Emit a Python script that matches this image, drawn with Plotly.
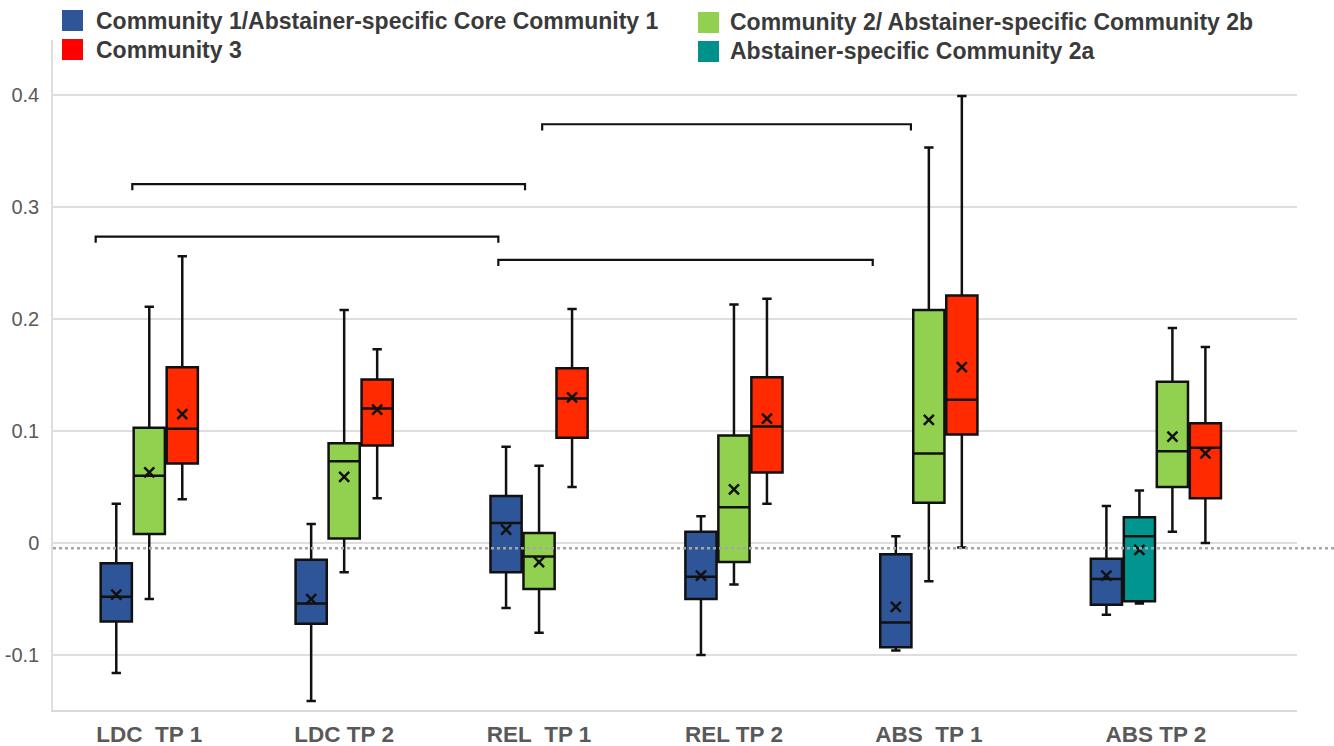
import plotly.graph_objects as go

# ---------------- data ----------------
categories = ["LDC\u00a0 TP 1", "LDC TP 2", "REL\u00a0 TP 1", "REL TP 2", "ABS\u00a0 TP 1", "ABS TP 2"]

# Community 1 / Abstainer-specific Core Community 1 (blue)
c1_lower = [-0.116, -0.141, -0.058, -0.100, -0.096, -0.064]
c1_q1    = [-0.070, -0.072, -0.026, -0.050, -0.093, -0.055]
c1_med   = [-0.048, -0.054,  0.018, -0.030, -0.071, -0.032]
c1_q3    = [-0.018, -0.015,  0.042,  0.010, -0.010, -0.014]
c1_upper = [ 0.035,  0.017,  0.086,  0.024,  0.006,  0.033]
c1_mean  = [-0.046, -0.050,  0.012, -0.029, -0.057, -0.029]

# Abstainer-specific Community 2a (teal) - only ABS TP 2
c2a_lower = [None, None, None, None, None, -0.054]
c2a_q1    = [None, None, None, None, None, -0.052]
c2a_med   = [None, None, None, None, None,  0.006]
c2a_q3    = [None, None, None, None, None,  0.023]
c2a_upper = [None, None, None, None, None,  0.047]
c2a_mean  = [None, None, None, None, None, -0.006]

# Community 2 / Abstainer-specific Community 2b (green)
c2_lower = [-0.050, -0.026, -0.080, -0.037, -0.034, 0.010]
c2_q1    = [ 0.008,  0.004, -0.041, -0.017,  0.036, 0.050]
c2_med   = [ 0.060,  0.073, -0.012,  0.032,  0.080, 0.082]
c2_q3    = [ 0.103,  0.089,  0.009,  0.096,  0.208, 0.144]
c2_upper = [ 0.211,  0.208,  0.069,  0.213,  0.353, 0.192]
c2_mean  = [ 0.063,  0.059, -0.017,  0.048,  0.110, 0.095]

# Community 3 (red)
c3_lower = [0.039, 0.040, 0.050, 0.035, -0.004, 0.000]
c3_q1    = [0.071, 0.087, 0.094, 0.063,  0.097, 0.040]
c3_med   = [0.102, 0.120, 0.129, 0.104,  0.128, 0.085]
c3_q3    = [0.157, 0.146, 0.156, 0.148,  0.221, 0.107]
c3_upper = [0.256, 0.173, 0.209, 0.218,  0.399, 0.175]
c3_mean  = [0.115, 0.119, 0.130, 0.111,  0.157, 0.080]

series_names = [
    "Community 1/Abstainer-specific Core Community 1",
    "Abstainer-specific Community 2a",
    "Community 2/ Abstainer-specific Community 2b",
    "Community 3",
]

# significance brackets: (from, to, level)
brackets = [
    (-0.087, 1.928, 0.3203),
    (-0.275, 1.791, 0.2735),
    (1.791, 3.712, 0.2527),
    (2.016, 3.908, 0.3738),
]
baseline_value = -0.0047

# ---------------- layout / style ----------------
W, H = 1334, 746
ML, MR, MT, MB = 53, 37, 40, 36
group_pos = [0, 1, 2, 3, 4, 5.165]
slot = 0.1693
box_w = 0.16
fills = ["#2E5597", "#00958F", "#92D050", "#FF2A00"]
legend_cols = ["#2E5597", "#00918C", "#92D050", "#FF0000"]

stats = [
    (c1_lower, c1_q1, c1_med, c1_q3, c1_upper, c1_mean),
    (c2a_lower, c2a_q1, c2a_med, c2a_q3, c2a_upper, c2a_mean),
    (c2_lower, c2_q1, c2_med, c2_q3, c2_upper, c2_mean),
    (c3_lower, c3_q1, c3_med, c3_q3, c3_upper, c3_mean),
]

present = [[s[2][g] is not None for s in stats] for g in range(len(categories))]

fig = go.Figure()
mean_x, mean_y = [], []
for si, (lo, q1, md, q3, up, mn) in enumerate(stats):
    xs, a, b, c, d, e = [], [], [], [], [], []
    for g in range(len(categories)):
        if md[g] is None:
            continue
        n = sum(present[g])
        k = sum(present[g][:si])
        x = group_pos[g] + (k - (n - 1) / 2) * slot
        xs.append(x); a.append(lo[g]); b.append(q1[g]); c.append(md[g]); d.append(q3[g]); e.append(up[g])
        mean_x.append(x); mean_y.append(mn[g])
    fig.add_trace(go.Box(
        x=xs, lowerfence=a, q1=b, median=c, q3=d, upperfence=e,
        width=box_w, whiskerwidth=0.3,
        fillcolor=fills[si], line=dict(color="#111111", width=2.5),
        name=series_names[si], showlegend=False, hoverinfo="skip",
    ))

fig.add_trace(go.Scatter(
    x=mean_x, y=mean_y, mode="markers", showlegend=False, hoverinfo="skip",
    marker=dict(symbol="x-thin", size=10, line=dict(color="#111111", width=2.5)),
))

shapes = []
drop = 0.0055
for x0, x1, yv in brackets:
    shapes.append(dict(
        type="path", xref="x", yref="y",
        path=f"M {x0},{yv - drop} L {x0},{yv} L {x1},{yv} L {x1},{yv - drop}",
        line=dict(color="#111111", width=2.2),
    ))
shapes.append(dict(
    type="line", xref="paper", yref="y", x0=0, x1=1.03,
    y0=baseline_value, y1=baseline_value,
    line=dict(color="#A6A6A6", width=2.5, dash="dot"),
))

# manual legend (pixel layout converted to paper coordinates)
pw, ph = W - ML - MR, H - MT - MB
def px(xp):
    return (xp - ML) / pw
def py(yp):
    return (H - MB - yp) / ph

leg_items = [
    (0, 62, 10, 94, 21),   # series index, square x, square top y, text x, text center y
    (3, 62, 39, 94, 50),
    (2, 698, 12, 728, 22),
    (1, 698, 41, 728, 51),
]
annotations = []
for si, sx, sy, tx, ty in leg_items:
    shapes.append(dict(
        type="rect", xref="paper", yref="paper",
        x0=px(sx), x1=px(sx + 21), y0=py(sy + 21), y1=py(sy),
        fillcolor=legend_cols[si], line=dict(width=0),
    ))
    annotations.append(dict(
        xref="paper", yref="paper", x=px(tx), y=py(ty),
        xanchor="left", yanchor="middle", showarrow=False,
        text=f"<b>{series_names[si]}</b>",
        font=dict(family="Liberation Sans, Arial, sans-serif", size=23, color="#3A3A3A"),
    ))

fig.update_layout(
    width=W, height=H,
    margin=dict(l=ML, r=MR, t=MT, b=MB, autoexpand=False),
    paper_bgcolor="white", plot_bgcolor="white",
    boxmode="overlay",
    shapes=shapes, annotations=annotations,
    showlegend=False,
    xaxis=dict(
        range=[-0.494, 5.889], automargin=False,
        tickmode="array", tickvals=group_pos,
        ticktext=[f"<b>{c}</b>" for c in categories],
        tickfont=dict(family="Liberation Sans, Arial, sans-serif", size=22.5, color="#595959"),
        showgrid=False, zeroline=False,
        showline=True, linecolor="#D9D9D9", linewidth=1.5,
        ticks="", ticklabelstandoff=3,
    ),
    yaxis=dict(
        range=[-0.149, 0.449], automargin=False,
        tickmode="array", tickvals=[-0.1, 0, 0.1, 0.2, 0.3, 0.4],
        ticktext=["-0.1", "0", "0.1", "0.2", "0.3", "0.4"],
        tickfont=dict(family="Liberation Sans, Arial, sans-serif", size=20, color="#595959"),
        showgrid=True, gridcolor="#DEDEDE", gridwidth=1.5,
        zeroline=False,
        showline=True, linecolor="#DEDEDE", linewidth=1.5,
        ticks="", ticklabelstandoff=8,
    ),
)

fig.write_html(
    "out.html",
    config={"displayModeBar": False},
    post_script="document.body.style.margin='0px';document.body.style.overflow='hidden';",
)
